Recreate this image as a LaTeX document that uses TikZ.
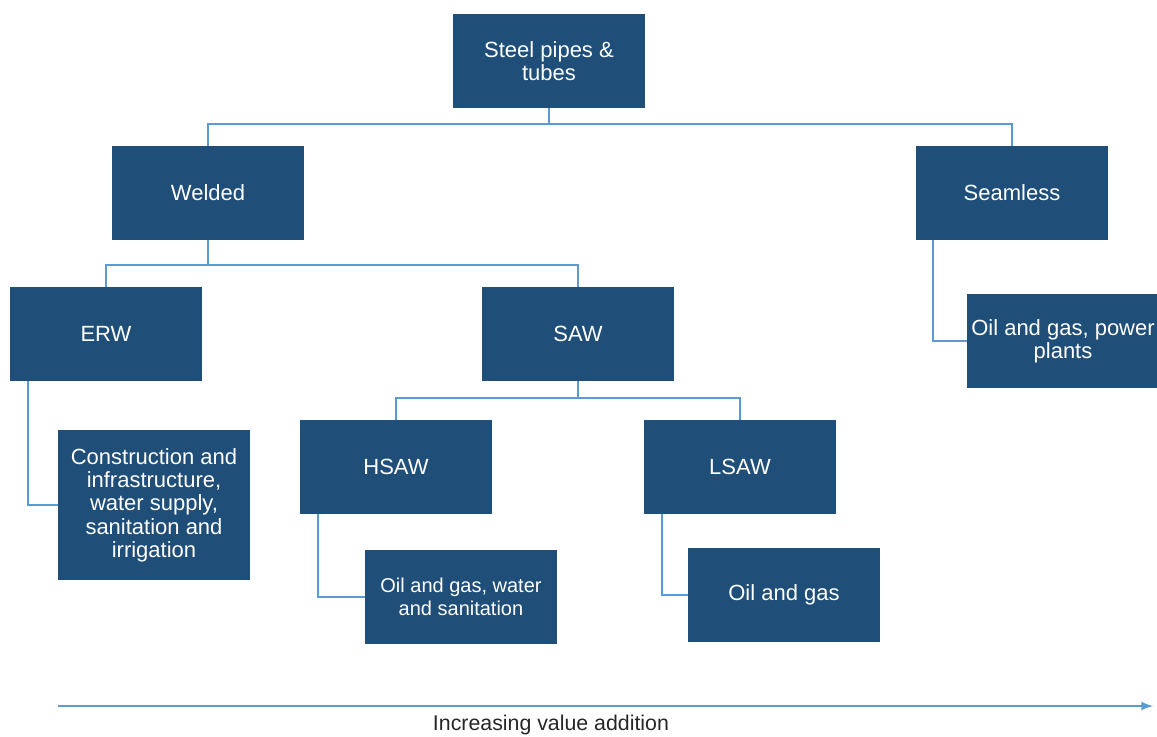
\documentclass[tikz,border=0pt]{standalone}
\usepackage{fontspec}
\setmainfont{Liberation Sans}
\usetikzlibrary{arrows,positioning}
\definecolor{pipeblue}{RGB}{31,78,121}
\definecolor{linkblue}{RGB}{91,155,213}
\begin{document}
\begin{tikzpicture}[x=0.75pt,y=-0.75pt,
  box/.style={fill=pipeblue,text=white,minimum width=144pt,minimum height=70.5pt,inner sep=0pt,align=center,font=\fontsize{16.5}{17.5}\selectfont},
  link/.style={draw=linkblue,line width=1.5pt},
  valarrow/.style={draw=linkblue,line width=2pt,-latex}]
\useasboundingbox (0,0) rectangle (1157,736);
\clip (0,0) rectangle (1157,736);
% boxes
\path (549,61) node(steel)[box] {Steel pipes \&\\tubes};
\path (208,193) node(welded)[box] {Welded};
\path (1012,193) node(seamless)[box] {Seamless};
\path (106,334) node(erw)[box] {ERW};
\path (578,334) node(saw)[box] {SAW};
\path (396,467) node(hsaw)[box] {HSAW};
\path (740,467) node(lsaw)[box] {LSAW};
\path (154,505) node(construct)[box,minimum height=112.5pt] {Construction and\\infrastructure,\\water supply,\\sanitation and\\irrigation};
\path (461,597) node(hsawuse)[box,font=\fontsize{15}{17}\selectfont] {Oil and gas, water\\and sanitation};
\path (784,595) node(lsawuse)[box] {Oil and gas};
\path (1063,341) node(seamuse)[box] {Oil and gas, power\\plants};
% tree lines
\draw[link] (steel.south) -- ++(0,16) -| (welded.north);
\draw[link] (steel.south) -- ++(0,16) -| (seamless.north);
\draw[link] (welded.south) -- ++(0,25) -| (erw.north);
\draw[link] (welded.south) -- ++(0,25) -| (saw.north);
\draw[link] (saw.south) -- ++(0,17) -| (hsaw.north);
\draw[link] (saw.south) -- ++(0,17) -| (lsaw.north);
% uses
\draw[link] ([xshift=13.5pt]erw.south west) |- (construct.west);
\draw[link] ([xshift=13.5pt]hsaw.south west) |- (hsawuse.west);
\draw[link] ([xshift=13.5pt]lsaw.south west) |- (lsawuse.west);
\draw[link] ([xshift=13pt]seamless.south west) |- (seamuse.west);
% value axis
\coordinate (vstart) at (58,706);
\coordinate (vend) at (1153,706);
\draw[valarrow] (vstart) -- (vend);
\path (551,725) node(vlabel)[font=\fontsize{16}{18}\selectfont,text=black!85] {Increasing value addition};
\end{tikzpicture}
\end{document}
